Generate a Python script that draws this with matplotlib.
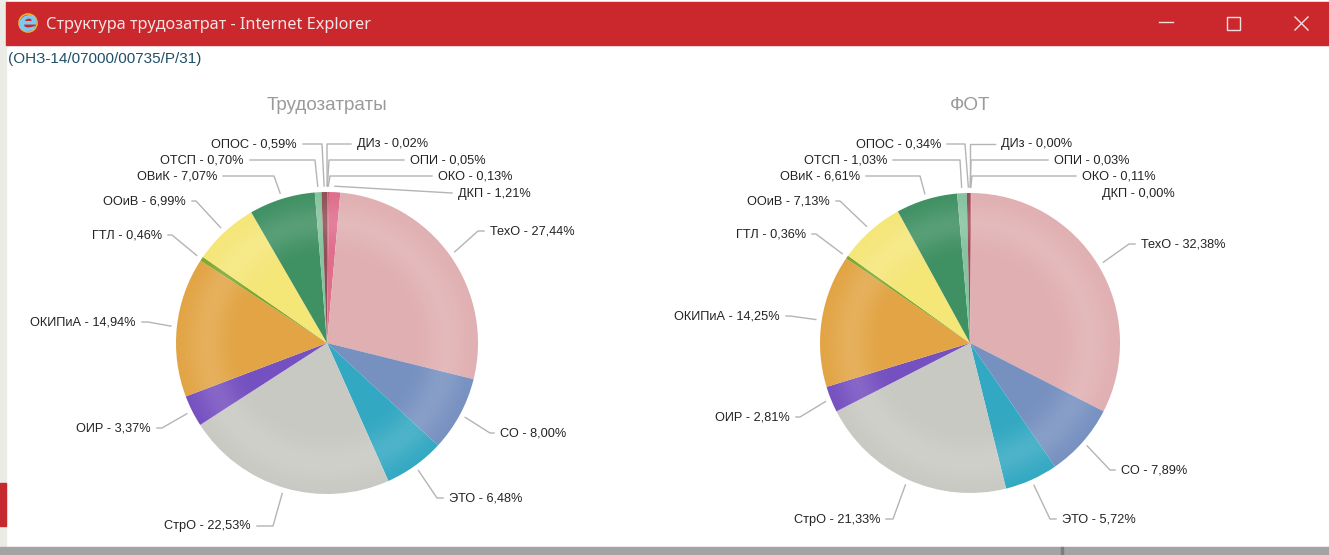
import numpy as np
from matplotlib import pyplot as plt
from matplotlib.patches import Circle, Rectangle

plt.rcParams['font.family'] = ['Liberation Sans', 'DejaVu Sans']

W, H = 1329, 555

# Chart data, clockwise from the top
categories = ['ДИз', 'ОПИ', 'ОКО', 'ДКП', 'ТехО', 'СО', 'ЭТО', 'СтрО', 'ОИР',
              'ОКИПиА', 'ГТЛ', 'ООиВ', 'ОВиК', 'ОТСП', 'ОПОС']
labour = [0.02, 0.05, 0.13, 1.21, 27.44, 8.00, 6.48, 22.53, 3.37,
          14.94, 0.46, 6.99, 7.07, 0.70, 0.59]
payroll = [0.00, 0.03, 0.11, 0.00, 32.38, 7.89, 5.72, 21.33, 2.81,
           14.25, 0.36, 7.13, 6.61, 1.03, 0.34]
titles = ['Трудозатраты', 'ФОТ']
window_title = 'Структура трудозатрат - Internet Explorer'
doc_number = '(ОНЗ-14/07000/00735/Р/31)'

colors = ['#8a3f4a', '#a84f5a', '#b9485c', '#df6d8c', '#e0afb1', '#7690c0',
          '#33a8c2', '#c9c9c3', '#7550c0', '#e2a444', '#7fa72c', '#f5e678',
          '#3f9063', '#86c3a0', '#8f4f55']

# Label placement in pixels: text x, text y, elbow x of the connector
labour_labels = [(357, 144, 327), (410, 160, 329), (438, 176, 330), (458, 193, 452),
                 (490, 231, 478), (500, 433, 490), (449, 498, 437), (251, 526, 273),
                 (151, 428, 162), (136, 322, 148), (162, 235, 172), (186, 201, 196),
                 (217, 176, 274), (244, 160, 315), (297, 144, 322)]
payroll_labels = [(1001, 144, 970), (1054, 160, 971), (1082, 176, 972), (1102, 193, None),
                  (1141, 244, 1129), (1121, 470, 1110), (1062, 519, 1050), (880, 519, 893),
                  (790, 417, 800), (780, 316, 790), (806, 234, 816), (830, 201, 840),
                  (860, 176, 920), (887, 160, 960), (941, 144, 965)]


def draw_pie(ax, values, labels, cx, cy, r, title):
    # y axis points down here, so counterclock from -90 runs clockwise on screen
    ax.pie(values, colors=colors, startangle=-90, counterclock=True,
           center=(cx, cy), radius=r, wedgeprops={'linewidth': 0})

    # soft light band that fades out to the rim, like the chart's shading
    yy, xx = np.mgrid[-1:1:400j, -1:1:400j]
    rr = np.hypot(xx, yy)
    shade = np.ones((400, 400, 4))
    shade[..., 3] = np.exp(-((rr - 0.8) / 0.13) ** 2) * 0.13
    im = ax.imshow(shade, extent=(cx - r, cx + r, cy + r, cy - r), zorder=3,
                   interpolation='bilinear')
    im.set_clip_path(Circle((cx, cy), r, transform=ax.transData))

    ax.text(cx, 105, title, color='#9a9a9a', fontsize=13.6, ha='center', va='center')

    total = 0
    whole = sum(values)
    for name, val, (tx, ty, ex) in zip(categories, values, labels):
        mid = (total + val / 2) / whole * 2 * np.pi
        total += val
        px = cx + (r + 6) * np.sin(mid)
        py = cy - (r + 6) * np.cos(mid)
        right_side = tx > cx
        text = f'{name} - {val:.2f}%'.replace('.', ',')
        ax.text(tx, ty + 0.5, text, color='#222222', fontsize=9.2, va='center',
                ha='left' if right_side else 'right', zorder=5)
        if ex is None:
            continue
        gap = -6 if right_side else 6
        ax.plot([tx + gap, ex, px], [ty, ty, py], color='#b4b4b4', lw=1, zorder=4,
                solid_joinstyle='round')


fig = plt.figure(figsize=(W / 100, H / 100), dpi=100, facecolor='white')
ax = fig.add_axes([0, 0, 1, 1])

draw_pie(ax, labour, labour_labels, 327, 343, 151, titles[0])
draw_pie(ax, payroll, payroll_labels, 970, 343, 150, titles[1])

# Window frame
ax.add_patch(Rectangle((0, 0), 6, H, color='#ecece6', zorder=6))
ax.add_patch(Rectangle((0, 483), 6, 43, color='#c62a2f', zorder=7))
ax.add_patch(Rectangle((0, 547), W, 8, color='#a3a3a3', zorder=6))
ax.add_patch(Rectangle((1061, 547), 2, 8, color='#7c7c7c', zorder=7))
ax.add_patch(Rectangle((6, 2), W - 6, 43, color='#cb282e', zorder=6))

# Title bar
ax.add_patch(Circle((28, 23), 9, fill=False, ec='#f0b030', lw=1.2, zorder=7))
ax.text(28, 23, 'e', color='#7cc8ee', fontsize=21, fontweight='bold', style='italic',
        ha='center', va='center', family='DejaVu Sans', zorder=8)
ax.text(46, 25, window_title, color='#f6e4e4', fontsize=11.7, family='Noto Sans',
        ha='left', va='center', zorder=7)
ax.plot([1159, 1173], [22, 22], color='#f5dede', lw=1, zorder=7)
ax.add_patch(Rectangle((1227, 17), 13, 13, fill=False, ec='#f5dede', lw=1, zorder=7))
ax.plot([1295, 1308], [17, 30], color='#f5dede', lw=1, zorder=7)
ax.plot([1295, 1308], [30, 17], color='#f5dede', lw=1, zorder=7)

ax.text(8, 59, doc_number, color='#1f4f68', fontsize=11, ha='left', va='center', zorder=7)

ax.set_xlim(0, W)
ax.set_ylim(H, 0)
ax.set_aspect('auto')
ax.axis('off')

fig.savefig('out.png', dpi=100)
